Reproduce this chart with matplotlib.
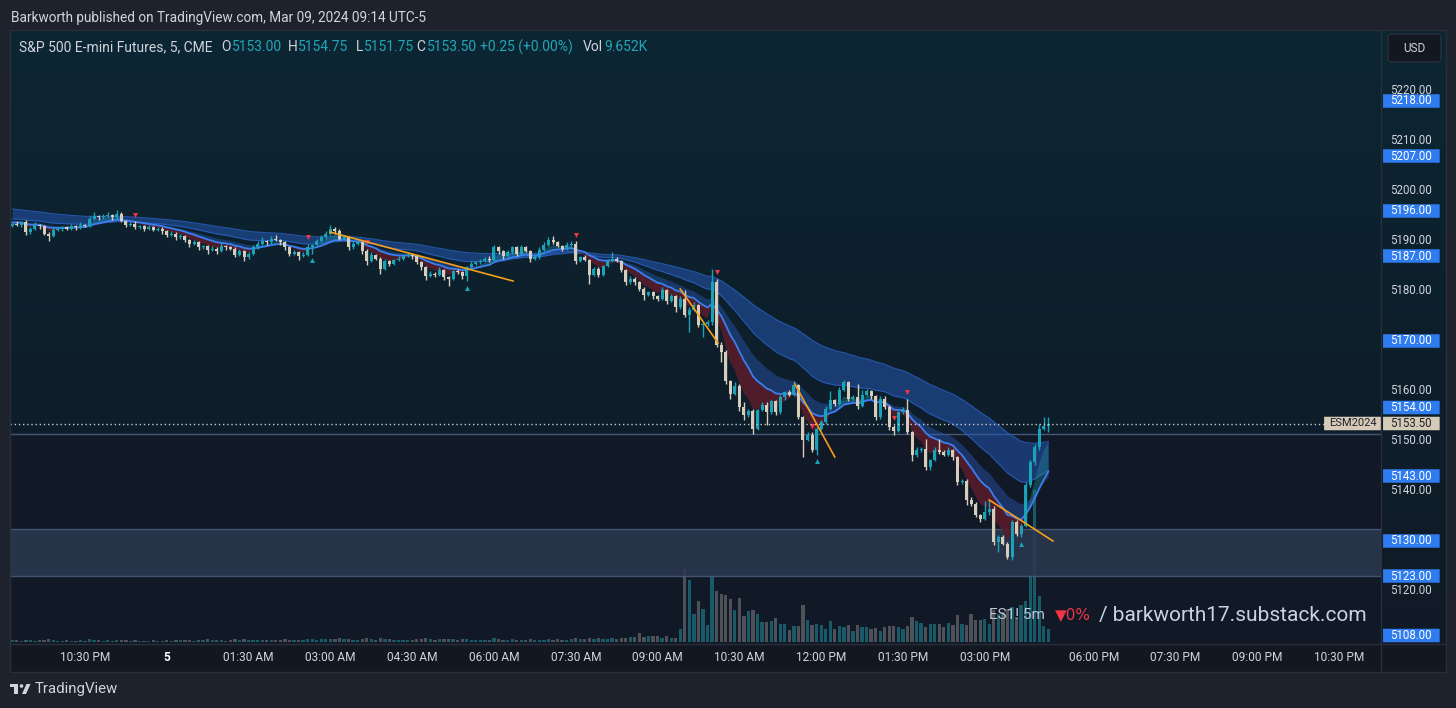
import numpy as np
import matplotlib
matplotlib.use("Agg")
import matplotlib.pyplot as plt
from matplotlib.patches import Rectangle, FancyBboxPatch, Polygon, Circle
from matplotlib.colors import LinearSegmentedColormap

W, H = 1456, 708
plt.rcParams["font.family"] = ["Roboto", "DejaVu Sans"]

# ---- data: ES1! 5 min candles (bar index 0 = 10:30 PM) ----
first_open = 5193.0
closes = [
    5193.5, 5193.25, 5193.75, 5191.75, 5192.5, 5193.25, 5193.0, 5191.5, 5191.0, 5192.25, 5192.5, 5192.75,
    5192.5, 5193.0, 5192.75, 5193.25, 5193.0, 5194.5, 5195.0, 5194.75, 5195.0, 5195.25, 5194.75, 5195.5,
    5194.0, 5193.25, 5193.5, 5192.75, 5193.0, 5192.5, 5192.75, 5192.25, 5192.5, 5192.0, 5191.25, 5191.5,
    5190.75, 5191.0, 5190.25, 5189.5, 5189.75, 5188.75, 5189.0, 5188.25, 5188.5, 5188.0, 5189.0, 5188.75,
    5188.5, 5187.25, 5188.0, 5186.75, 5187.5, 5188.75, 5189.5, 5190.0, 5189.75, 5190.5, 5190.25, 5189.75,
    5188.75, 5187.5, 5187.75, 5187.0, 5187.25, 5188.75, 5189.25, 5190.0, 5190.75, 5191.5, 5192.5, 5192.0,
    5190.5, 5190.75, 5188.75, 5189.5, 5189.75, 5188.0, 5186.0, 5187.25, 5186.5, 5184.5, 5186.0, 5185.5,
    5186.25, 5186.5, 5187.0, 5187.25, 5187.0, 5185.75, 5184.75, 5183.0, 5183.5, 5183.25, 5184.25, 5182.75,
    5182.5, 5184.0, 5183.75, 5183.0, 5184.75, 5185.5, 5185.75, 5186.0, 5186.5, 5186.25, 5188.75, 5188.0,
    5187.0, 5187.75, 5188.75, 5187.5, 5188.75, 5188.0, 5186.5, 5186.75, 5188.25, 5189.25, 5190.25, 5189.75,
    5189.0, 5188.5, 5189.25, 5189.5, 5186.0, 5186.75, 5186.25, 5183.25, 5184.5, 5183.25, 5185.0, 5186.0,
    5186.5, 5186.0, 5184.25, 5181.75, 5182.5, 5181.75, 5180.5, 5179.25, 5179.75, 5179.0, 5178.5, 5180.25,
    5178.0, 5179.0, 5176.75, 5178.5, 5175.25, 5176.25, 5177.25, 5173.25, 5173.5, 5173.75, 5181.75, 5169.25,
    5167.75, 5162.0, 5159.5, 5161.0, 5156.75, 5155.25, 5156.0, 5152.5, 5156.25, 5157.25, 5155.75, 5158.0,
    5155.75, 5158.75, 5159.75, 5159.25, 5161.25, 5154.75, 5150.25, 5151.25, 5148.25, 5152.5, 5153.75, 5156.5,
    5158.25, 5157.5, 5160.25, 5161.75, 5158.5, 5158.75, 5157.0, 5159.25, 5160.0, 5159.0, 5154.75, 5158.5,
    5156.75, 5152.75, 5152.0, 5155.75, 5156.25, 5151.75, 5147.25, 5148.25, 5148.5, 5144.75, 5146.25, 5148.25,
    5147.75, 5147.25, 5148.25, 5146.75, 5141.75, 5142.0, 5138.25, 5137.5, 5135.25, 5134.5, 5135.75, 5136.5,
    5129.75, 5130.75, 5129.5, 5126.75, 5133.75, 5131.5, 5133.0, 5141.25, 5145.75, 5148.75, 5152.5, 5153.0,
    5153.5,
]
up_wick = [
    .25, .5, .25, .5, .25, .5, .25, .25, .25, .5, .25, .25,
    .25, .5, .25, .5, .25, .5, .75, .25, .5, .5, .25, .75,
    .25, .25, .25, .5, .25, .25, .5, .25, .25, .25, .25, .5,
    .25, .5, .25, .25, .5, .25, .25, .25, .5, .25, .75, .25,
    .25, .25, .5, .25, .25, .5, .5, .75, .25, .5, .75, .25,
    .25, .25, .5, .25, .5, .75, .25, .5, .5, .5, .75, .25,
    .5, .25, .25, .5, .25, .25, .5, .5, .25, .25, .5, .25,
    .25, .5, .25, .5, .25, .25, .25, .25, .5, .25, .5, .25,
    .25, .25, .5, .25, .25, .5, .25, .5, .25, .5, .5, .25,
    .25, .5, .25, .25, .5, .25, .25, .5, .5, .5, .5, .75,
    .25, .25, .5, .5, .5, .25, .5, .25, .25, .25, .25, .5,
    1.25, .25, .25, .25, .5, .25, .25, .25, .25, .25, .25, .5,
    .25, .5, .25, .5, 1.75, .5, .5, .25, .25, .5, 2.75, .75,
    .5, .5, .25, .75, .5, 1.0, .5, .5, .25, .5, .5, .25,
    .25, .5, .25, .5, .75, .25, .25, .5, .5, .25, .5, .5,
    1.75, .25, .5, .5, .25, .5, 2.75, 1.0, .5, .25, .25, .5,
    .5, .5, .5, .25, .5, 2.25, .25, .5, .25, 2.0, .25, .5,
    2.25, .5, .5, .25, .25, .5, .5, .5, .25, .25, 2.25, 1.75,
    .5, .5, .5, .25, .5, .5, .5, .5, .5, .75, 1.0, 1.75,
    1.25,
]
dn_wick = [
    .25, .25, .5, .5, .25, .25, .5, .25, 1.0, .25, .25, .5,
    .25, .25, .5, .25, .25, .25, .25, .5, .25, .25, .5, .25,
    .25, .5, .25, .25, .25, .5, .25, .25, .25, .5, .5, .25,
    .5, .25, .5, .75, .25, .5, .25, .75, .25, .5, .25, .5,
    .25, .5, .25, .75, .25, .25, .25, .25, .5, .25, .25, .5,
    .5, .5, .25, .75, .25, .25, 1.25, .25, .25, .25, .25, .5,
    .25, .25, .5, .25, .25, .5, .75, .25, .25, 1.0, .25, .5,
    .25, .25, .25, .25, .5, .25, .5, .75, .25, .5, .25, .5,
    1.5, .25, .25, .5, 1.0, .25, .25, .25, .25, .5, .25, .5,
    .5, .25, .25, .5, .25, .25, .75, .25, .25, .25, .25, .25,
    .25, .5, .25, .25, .5, .25, .25, 1.75, .25, .5, .25, .25,
    .25, .25, .5, .5, .25, .5, .5, 1.0, .25, .5, .5, .25,
    .5, .25, 1.0, .25, .5, 3.5, .25, .5, 2.5, .5, .5, .5,
    2.0, .5, 1.0, .25, .75, 1.0, .5, 1.0, .25, .25, 2.5, .25,
    .5, .25, .5, .25, .25, .25, 3.5, .25, .5, 1.0, .25, .25,
    .25, .5, .25, .25, .5, .25, .5, .25, .25, .5, .5, .25,
    .25, .5, .75, .25, .25, .25, 1.25, .5, .5, .5, .5, .25,
    .25, .25, .25, .5, .5, .25, 1.0, .5, .5, .75, .25, .5,
    .5, 2.0, .25, .25, .5, .5, .75, .25, .5, .5, .5, .25,
    1.25,
]
volume_k = [
    1.5, 1.2, 1.0, 1.8, 1.3, 1.1, 1.4, 1.6, 2.0, 1.2, 1.1, 1.0,
    1.2, 0.9, 1.0, 1.3, 1.1, 1.9, 1.6, 1.2, 1.0, 1.3, 1.1, 1.5,
    1.3, 1.4, 1.0, 1.2, 0.9, 1.1, 1.0, 1.2, 0.8, 1.1, 1.4, 1.0,
    1.6, 1.2, 1.5, 1.8, 1.1, 1.7, 1.2, 1.9, 1.3, 1.4, 1.6, 1.1,
    1.4, 1.9, 1.3, 2.1, 1.2, 1.8, 1.6, 1.7, 1.2, 1.5, 1.8, 1.3,
    1.9, 1.7, 1.2, 1.6, 1.3, 2.2, 2.0, 1.8, 2.1, 2.4, 2.6, 2.0,
    2.8, 1.9, 2.5, 1.6, 1.4, 2.2, 2.9, 2.1, 1.8, 3.0, 2.2, 1.9,
    1.7, 1.5, 1.8, 1.4, 1.6, 2.0, 2.3, 2.7, 1.9, 1.8, 2.1, 2.4,
    2.6, 2.2, 1.8, 1.9, 2.3, 1.7, 1.6, 1.8, 1.5, 1.4, 2.8, 1.9,
    1.8, 1.5, 1.9, 1.6, 1.7, 1.4, 2.0, 1.5, 1.6, 1.8, 2.1, 1.7,
    1.9, 1.6, 1.8, 2.0, 3.1, 2.4, 2.2, 3.3, 2.5, 2.8, 2.3, 2.3,
    3.0, 2.3, 3.0, 3.0, 3.8, 3.8, 6.8, 3.8, 4.5, 4.5, 4.5, 3.0,
    4.5, 3.0, 3.0, 9.8, 54.8, 46.5, 21.0, 30.8, 24.8, 12.8, 48.8, 38.3,
    36.0, 35.3, 32.3, 24.0, 33.0, 19.5, 23.3, 24.0, 21.0, 15.0, 15.0, 15.8,
    18.0, 13.5, 13.5, 9.0, 12.0, 12.0, 27.8, 16.5, 12.8, 13.5, 12.8, 9.8,
    15.8, 9.8, 12.0, 11.3, 12.8, 8.3, 12.8, 11.3, 11.3, 9.8, 10.5, 8.3,
    11.3, 12.0, 12.0, 11.3, 9.8, 12.0, 18.8, 15.8, 14.3, 11.3, 13.5, 13.5,
    13.5, 11.3, 14.3, 12.8, 20.3, 13.5, 12.8, 21.0, 16.5, 16.5, 17.3, 13.5,
    24.0, 21.0, 22.5, 24.8, 26.3, 18.8, 27.8, 30.8, 50.3, 114.0, 34.5, 12.0,
    9.652,
]
first_bar = -16

red_marks = [11, 49, 62, 108, 139, 160, 178, 181]
teal_marks = [50, 84, 161, 206]

# orange trend lines: (bar, price) -> (bar, price)
trend_lines = [
    ((53.9, 5191.8), (94.2, 5182.0)),
    ((131.0, 5180.4), (139.3, 5169.6)),
    ((156.2, 5161.4), (165.0, 5146.8)),
    ((199.0, 5138.2), (213.0, 5130.0)),
]
zone_top, zone_bottom = 5132.4, 5123.0
shade_top = 5151.4
last_price = 5153.5

ema_periods = [5, 13, 21, 34, 65]
ema_seeds = [5193.5, 5193.75, 5194.25, 5194.5, 5196.5]

time_ticks = [0, 18, 36, 54, 72, 90, 108, 126, 144, 162, 180, 198, 222, 240, 258, 276]
time_labels = ["10:30 PM", "5", "01:30 AM", "03:00 AM", "04:30 AM", "06:00 AM", "07:30 AM",
               "09:00 AM", "10:30 AM", "12:00 PM", "01:30 PM", "03:00 PM", "06:00 PM",
               "07:30 PM", "09:00 PM", "10:30 PM"]
price_ticks = [5220, 5210, 5200, 5190, 5180, 5160, 5150, 5140, 5120]
level_prices = [5218, 5207, 5196, 5187, 5170, 5154, 5143, 5130, 5123, 5108]

# ---- colours ----
UP = "#1aa3b6"
DOWN = "#d6cdbd"
TXT = "#d1d4dc"
FRAME = "#1e222d"
LEVEL_BLUE = "#2f7cf0"


def ema(values, period, seed):
    a = 2.0 / (period + 1)
    out, e = [], seed
    for v in values:
        e = e + a * (v - e)
        out.append(e)
    return np.array(out)


closes_a = np.array(closes)
opens_a = np.concatenate([[first_open], closes_a[:-1]])
highs = np.maximum(opens_a, closes_a) + np.array(up_wick)
lows = np.minimum(opens_a, closes_a) - np.array(dn_wick)
idx = np.arange(first_bar, first_bar + len(closes))
is_up = closes_a >= opens_a

emas = [ema(closes_a, p, s) for p, s in zip(ema_periods, ema_seeds)]
e_fast, e_mid, e_mid2, e_slow, e_slow2 = emas

fig = plt.figure(figsize=(W / 100, H / 100), dpi=100, facecolor=FRAME)

# background panel (chart + price scale + time scale)
bg = fig.add_axes([10 / W, 1 - 672 / H, 1436 / W, 642 / H])
grad = np.linspace(0, 1, 256).reshape(-1, 1)
cmap = LinearSegmentedColormap.from_list("bgc", ["#0c2633", "#0d1f2b", "#111a26"])
bg.imshow(grad, aspect="auto", cmap=cmap, extent=[0, 1, 0, 1], origin="upper")
bg.add_patch(Rectangle((0, 0), 1, 28 / 642, facecolor="#131722", edgecolor="none"))
bg.set_xlim(0, 1)
bg.set_ylim(0, 1)
bg.axis("off")

rect = [10 / W, 1 - 644 / H, 1371 / W, 614 / H]
xlim = (-16.5, 285.2)
ylim = (5109.4, 5232.2)

# shaded lower region
sax = fig.add_axes(rect)
sax.set_xlim(*xlim)
sax.set_ylim(*ylim)
sax.axis("off")
sax.add_patch(Rectangle((xlim[0], ylim[0]), xlim[1] - xlim[0], shade_top - ylim[0],
                        facecolor="#121826", edgecolor="none", alpha=0.92))

# volume
vax = fig.add_axes(rect)
vax.set_xlim(*xlim)
vax.set_ylim(-1.5, 459)
vax.axis("off")
vcol = np.where(is_up, "#1b6676", "#5a5c60")
vax.bar(idx, volume_k, width=0.72, color=vcol, alpha=0.85, linewidth=0)

ax = fig.add_axes(rect)
ax.set_facecolor("none")
ax.set_xlim(*xlim)
ax.set_ylim(*ylim)
for s in ax.spines.values():
    s.set_visible(False)
ax.set_xticks([])
ax.set_yticks([])

# zone rectangle
ax.add_patch(Rectangle((xlim[0], zone_bottom), xlim[1] - xlim[0], zone_top - zone_bottom,
                       facecolor="#2b3850", edgecolor="#4b5d7a", linewidth=1.0, alpha=0.85, zorder=1))
ax.axhline(shade_top, color="#44587a", linewidth=1.0, zorder=1)

# ribbons
ax.fill_between(idx, e_slow, e_slow2, color="#2456b0", alpha=0.55, linewidth=0, zorder=2)
ax.plot(idx, e_slow, color="#2b62c4", linewidth=0.8, alpha=0.8, zorder=2)
ax.plot(idx, e_slow2, color="#2b62c4", linewidth=0.8, alpha=0.8, zorder=2)
ax.fill_between(idx, e_mid, e_mid2, color="#2e64cc", alpha=0.38, linewidth=0, zorder=2)
ax.fill_between(idx, e_fast, e_mid, where=e_fast <= e_mid, interpolate=True, color="#561c2b",
                alpha=0.9, linewidth=0, zorder=2)
ax.fill_between(idx, e_fast, e_mid, where=e_fast > e_mid, interpolate=True, color="#1f8a96",
                alpha=0.38, linewidth=0, zorder=2)
ax.plot(idx, e_mid, color="#3c7ef0", linewidth=1.3, zorder=3)

# candles
ccol = np.where(is_up, UP, DOWN)
ax.vlines(idx, lows, highs, colors=ccol, linewidth=1.0, zorder=4)
body_bottom = np.minimum(opens_a, closes_a)
body_h = np.maximum(np.abs(closes_a - opens_a), 0.2)
ax.bar(idx, body_h, bottom=body_bottom, width=0.66, color=ccol, linewidth=0, zorder=5)

# signal markers
rm = np.array(red_marks) - first_bar
ax.scatter(idx[rm], highs[rm] + 1.3, marker="v", s=13, color="#f23645", linewidths=0, zorder=6)
tm = np.array(teal_marks) - first_bar
ax.scatter(idx[tm], lows[tm] - 1.3, marker="^", s=13, color="#1aa3b6", linewidths=0, zorder=6)

# trend lines
for (x0, y0), (x1, y1) in trend_lines:
    ax.plot([x0, x1], [y0, y1], color="#f59f1b", linewidth=1.2, zorder=7)

# last price dotted line
ax.axhline(last_price, color="#c5c9d2", linewidth=1.0, linestyle=(0, (1, 2)), zorder=7)

# watermark
ax.text(0.714, 0.047, "ES1! 5m", transform=ax.transAxes, color="#bcc7d6", fontsize=11,
        ha="left", va="center", zorder=8)
ax.text(0.7625, 0.047, "\u25bc0%", transform=ax.transAxes, color="#f23645", fontsize=11,
        ha="left", va="center", zorder=8, family=["DejaVu Sans"])
ax.text(0.7945, 0.047, "/ barkworth17.substack.com", transform=ax.transAxes, color="#c9d3e0",
        fontsize=15, ha="left", va="center", zorder=8)

# time axis
for t, lab in zip(time_ticks, time_labels):
    ax.text(t, -0.0225, lab, transform=ax.get_xaxis_transform(), ha="center", va="center",
            color="#ffffff" if lab == "5" else TXT, fontsize=8.6,
            fontweight="bold" if lab == "5" else "normal", clip_on=False)

# price axis
ytr = ax.get_yaxis_transform()
for p in price_ticks:
    ax.text(1.0066, p, f"{p:.2f}", transform=ytr, ha="left", va="center", color=TXT,
            fontsize=8.3, clip_on=False)

for p in level_prices:
    yp = p
    if abs(p - last_price) < 3:
        yp = last_price + 3.2
    yp = max(yp, ylim[0] + 1.7)
    ax.add_patch(FancyBboxPatch((1.0015, yp - 1.35), 0.0413, 2.7, boxstyle="round,pad=0,rounding_size=0.002",
                                transform=ytr, facecolor=LEVEL_BLUE, edgecolor="none", clip_on=False, zorder=9))
    ax.text(1.0066, yp, f"{p:.2f}", transform=ytr, ha="left", va="center", color="white",
            fontsize=8.3, clip_on=False, zorder=10)

ax.add_patch(FancyBboxPatch((1.0015, last_price - 1.35), 0.0413, 2.7, boxstyle="round,pad=0,rounding_size=0.002",
                            transform=ytr, facecolor="#d5cbb6", edgecolor="none", clip_on=False, zorder=9))
ax.text(1.0066, last_price, f"{last_price:.2f}", transform=ytr, ha="left", va="center",
        color="#1e222d", fontsize=8.3, clip_on=False, zorder=10)
ax.add_patch(FancyBboxPatch((0.9585, last_price - 1.35), 0.0415, 2.7, boxstyle="round,pad=0,rounding_size=0.002",
                            transform=ytr, facecolor="#d5cbb6", edgecolor="none", clip_on=False, zorder=9))
ax.text(0.9792, last_price, "ESM2024", transform=ytr, ha="center", va="center",
        color="#1e222d", fontsize=8.0, clip_on=False, zorder=10)

# separators and frame (figure pixel coordinates)
ov = fig.add_axes([0, 0, 1, 1], facecolor="none")
ov.set_xlim(0, W)
ov.set_ylim(H, 0)
ov.axis("off")
ov.plot([1381, 1381], [30, 672], color="#2a2e39", linewidth=1.0)
ov.plot([10, 1446], [644, 644], color="#2a2e39", linewidth=1.0)
ov.add_patch(Rectangle((10, 30), 1436, 642, facecolor="none", edgecolor="#2a2e39", linewidth=1.0))
ov.add_patch(FancyBboxPatch((1388, 34), 53, 28, boxstyle="round,pad=0,rounding_size=4",
                            facecolor="#131722", edgecolor="#2a2e39", linewidth=1.0))
ov.text(1414.5, 48, "USD", color=TXT, fontsize=8.5, ha="center", va="center")

# header
ov.text(11, 18, "Barkworth published on TradingView.com, Mar 09, 2024 09:14 UTC-5", color=TXT,
        fontsize=9.8, ha="left", va="center")

# legend line
TEAL_TXT = "#22a6b8"
parts = [
    (19, "S&P 500 E-mini Futures, 5, CME", TXT),
    (221, "O", TXT), (232, "5153.00", TEAL_TXT),
    (288, "H", TXT), (298, "5154.75", TEAL_TXT),
    (356, "L", TXT), (364, "5151.75", TEAL_TXT),
    (416, "C", TXT), (427, "5153.50", TEAL_TXT),
    (480, "+0.25 (+0.00%)", TEAL_TXT),
    (583, "Vol", TXT), (604, "9.652K", TEAL_TXT),
]
for x, s, c in parts:
    ov.text(x, 47, s, color=c, fontsize=10, ha="left", va="center")

# TradingView logo + name
ov.add_patch(Rectangle((10, 684), 8, 3, facecolor=TXT, edgecolor="none"))
ov.add_patch(Rectangle((14, 684), 4, 10, facecolor=TXT, edgecolor="none"))
ov.add_patch(Circle((21.5, 686), 1.8, facecolor=TXT, edgecolor="none"))
ov.add_patch(Polygon([(22, 694), (26.5, 684), (30.5, 684), (26, 694)], closed=True, facecolor=TXT, edgecolor="none"))
ov.text(35, 689, "TradingView", color=TXT, fontsize=10.8, ha="left", va="center")

fig.savefig("out.png", dpi=100, facecolor=FRAME)
